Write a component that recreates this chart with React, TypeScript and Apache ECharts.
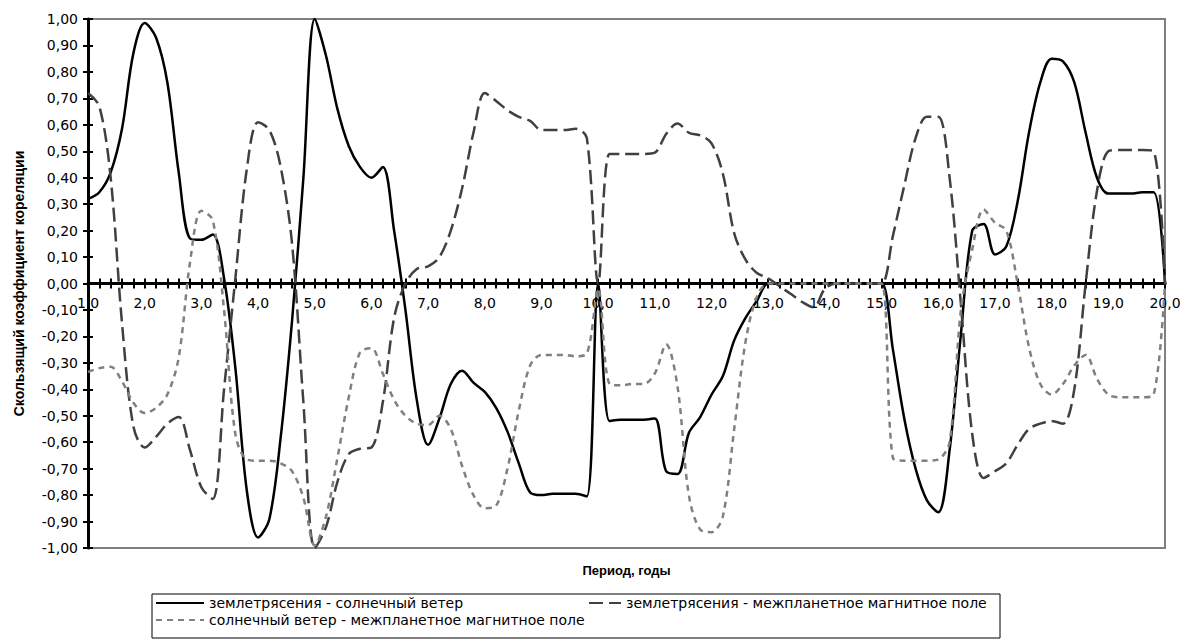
import React, { useEffect, useRef } from "react";
import * as echarts from "echarts";

const periods = [
  "1,0", "1,2", "1,4", "1,6", "1,8", "2,0", "2,2", "2,4", "2,6", "2,8",
  "3,0", "3,2", "3,4", "3,6", "3,8", "4,0", "4,2", "4,4", "4,6", "4,8",
  "5,0", "5,2", "5,4", "5,6", "5,8", "6,0", "6,2", "6,4", "6,6", "6,8",
  "7,0", "7,2", "7,4", "7,6", "7,8", "8,0", "8,2", "8,4", "8,6", "8,8",
  "9,0", "9,2", "9,4", "9,6", "9,8", "10,0", "10,2", "10,4", "10,6", "10,8",
  "11,0", "11,2", "11,4", "11,6", "11,8", "12,0", "12,2", "12,4", "12,6", "12,8",
  "13,0", "13,2", "13,4", "13,6", "13,8", "14,0", "14,2", "14,4", "14,6", "14,8",
  "15,0", "15,2", "15,4", "15,6", "15,8", "16,0", "16,2", "16,4", "16,6", "16,8",
  "17,0", "17,2", "17,4", "17,6", "17,8", "18,0", "18,2", "18,4", "18,6", "18,8",
  "19,0", "19,2", "19,4", "19,6", "19,8", "20,0",
];

const nameQuakeSolar = "землетрясения - солнечный ветер";
const nameQuakeImf = "землетрясения - межпланетное магнитное поле";
const nameSolarImf = "солнечный ветер - межпланетное магнитное поле";

const quakeSolar = [
  0.32, 0.345, 0.42, 0.585, 0.87,
  0.985, 0.93, 0.76, 0.42, 0.17,
  0.165, 0.185, 0.02, -0.32, -0.78,
  -0.96, -0.89, -0.58, -0.14, 0.4,
  1.0, 0.86, 0.66, 0.52, 0.44,
  0.4, 0.44, 0.2, -0.1, -0.44,
  -0.61, -0.51, -0.38, -0.33, -0.375,
  -0.41, -0.47, -0.56, -0.68, -0.79,
  -0.8, -0.795, -0.795, -0.795, -0.805,
  0.0, -0.52, -0.515, -0.515, -0.515,
  -0.51, -0.71, -0.72, -0.565, -0.505,
  -0.42, -0.35, -0.215, -0.13, -0.065,
  0, 0, 0, 0, 0,
  0, 0, 0, 0, 0,
  0, -0.25, -0.51, -0.7, -0.82,
  -0.865, -0.63, -0.19, 0.2, 0.225,
  0.11, 0.14, 0.31, 0.57, 0.76,
  0.85, 0.84, 0.76, 0.57, 0.4,
  0.34, 0.34, 0.34, 0.345, 0.345,
  0,
];

const quakeImf = [
  0.72, 0.67, 0.4, -0.15, -0.54,
  -0.62, -0.58, -0.53, -0.505, -0.63,
  -0.77, -0.815, -0.4, 0.02, 0.43,
  0.61, 0.58, 0.44, 0.15, -0.45,
  -1.0, -0.92, -0.75, -0.645, -0.625,
  -0.62, -0.45, -0.13, 0.0, 0.055,
  0.065, 0.1, 0.2, 0.36, 0.57,
  0.72, 0.69, 0.655, 0.63, 0.615,
  0.58, 0.58, 0.58, 0.585, 0.55,
  0.0, 0.49, 0.49, 0.49, 0.49,
  0.495, 0.565, 0.605, 0.57, 0.56,
  0.53, 0.415, 0.19, 0.09, 0.04,
  0.02, -0.01, -0.04, -0.07, -0.09,
  -0.02, 0, 0, 0, 0,
  0, 0.18, 0.37, 0.55, 0.63,
  0.63, 0.4, -0.08, -0.57, -0.735,
  -0.71, -0.68, -0.61, -0.55, -0.53,
  -0.52, -0.53, -0.4, 0.0, 0.35,
  0.5, 0.505, 0.505, 0.505, 0.5,
  0,
];

const solarImf = [
  -0.335, -0.32, -0.315, -0.37, -0.45,
  -0.49, -0.47, -0.42, -0.28, 0.08,
  0.275, 0.24, -0.1, -0.57, -0.665,
  -0.67, -0.67, -0.68, -0.71, -0.81,
  -0.99, -0.88, -0.66, -0.43, -0.26,
  -0.245, -0.34, -0.44, -0.5, -0.53,
  -0.535, -0.5, -0.55, -0.69, -0.8,
  -0.85, -0.84, -0.7, -0.48, -0.31,
  -0.27, -0.27, -0.27, -0.275, -0.265,
  -0.02, -0.38, -0.385, -0.38, -0.38,
  -0.34, -0.23, -0.39, -0.8, -0.93,
  -0.94, -0.88, -0.55, -0.22, -0.05,
  0, 0, 0, 0, 0,
  0, 0, 0, 0, 0,
  0, -0.66, -0.67, -0.67, -0.67,
  -0.665, -0.6, -0.1, 0.13, 0.28,
  0.23, 0.2, 0.0, -0.24, -0.38,
  -0.42, -0.38, -0.31, -0.27, -0.36,
  -0.42, -0.43, -0.43, -0.43, -0.42,
  0,
];

const FONT = "Liberation Sans";
const WIDE = "DejaVu Sans";

export default function App() {
  const ref = useRef<HTMLDivElement>(null);

  useEffect(() => {
    document.body.style.margin = "0";
    if (!ref.current) return;
    const chart = echarts.init(ref.current, undefined, { renderer: "svg" });

    const yFmt = (v: number) => {
      if (Math.abs(v) < 1e-9) return "0,00";
      return v.toFixed(2).replace(".", ",");
    };

    const lineSeries = (name: string, data: number[], color: string, type: any) => ({
      name,
      type: "line",
      data,
      xAxisIndex: 0,
      yAxisIndex: 0,
      smooth: 0.33,
      symbol: "none",
      showSymbol: false,
      lineStyle: { color, width: 2.5, type },
      itemStyle: { color },
    });

    const legendBase = {
      itemHeight: 14,
      padding: 0,
      itemStyle: { opacity: 0 },
      textStyle: { color: "#000", fontSize: 14, fontFamily: WIDE },
    };

    const zeroAxis = (inside: boolean) => ({
      type: "category",
      data: periods,
      boundaryGap: false,
      position: "bottom",
      axisLine: { show: true, onZero: true, onZeroAxisIndex: 0, lineStyle: { color: "#000", width: 3 } },
      axisTick: { show: true, inside, interval: 0, length: 5, lineStyle: { color: "#000", width: 2 } },
      axisLabel: { show: false },
      splitLine: { show: false },
    });

    chart.setOption({
      animation: false,
      backgroundColor: "#ffffff",
      textStyle: { fontFamily: FONT },
      grid: {
        left: 88,
        right: 15,
        top: 19,
        bottom: 91,
        show: true,
        borderColor: "#808080",
        borderWidth: 2,
        containLabel: false,
        outerBoundsMode: "none",
      },
      xAxis: [
        {
          type: "category",
          data: periods,
          boundaryGap: false,
          position: "bottom",
          axisLine: { show: false, onZero: false },
          axisTick: { show: false },
          axisLabel: { interval: 4, color: "#000", fontFamily: WIDE, fontSize: 14, margin: -252 },
          splitLine: { show: false },
          name: "Период, годы",
          nameLocation: "middle",
          nameGap: 16,
          nameTextStyle: { color: "#000", fontWeight: "bold", fontSize: 13, fontFamily: FONT },
        },
        zeroAxis(false),
        zeroAxis(true),
      ],
      yAxis: [
        {
          type: "value",
          min: -1,
          max: 1,
          interval: 0.1,
          axisLine: { show: true, onZero: false, lineStyle: { color: "#000", width: 3 } },
          axisTick: { show: true, length: 5, lineStyle: { color: "#000", width: 2 } },
          axisLabel: { formatter: yFmt, color: "#000", fontFamily: WIDE, fontSize: 14, margin: 10 },
          splitLine: { show: false },
          name: "Скользящий коэффициент кореляции",
          nameLocation: "middle",
          nameGap: 62,
          nameTextStyle: { color: "#000", fontWeight: "bold", fontSize: 14, fontFamily: FONT },
        },
        {
          type: "value",
          min: -1,
          max: 1,
          interval: 0.1,
          position: "left",
          axisLine: { show: false, onZero: false },
          axisTick: { show: true, inside: true, length: 5, lineStyle: { color: "#000", width: 2 } },
          axisLabel: { show: false },
          splitLine: { show: false },
        },
      ],
      legend: [
        { ...legendBase, data: [nameQuakeSolar], left: 155, top: 596, itemWidth: 48 },
        { ...legendBase, data: [nameQuakeImf], left: 588, top: 596, itemWidth: 32 },
        { ...legendBase, data: [nameSolarImf], left: 155, top: 613, itemWidth: 48 },
      ],
      graphic: [
        {
          type: "rect",
          shape: { x: 152, y: 594, width: 848, height: 44 },
          style: { fill: "none", stroke: "#000", lineWidth: 1 },
          silent: true,
        },
      ],
      series: [
        lineSeries(nameQuakeSolar, quakeSolar, "#000000", "solid"),
        lineSeries(nameQuakeImf, quakeImf, "#404040", [14, 6]),
        lineSeries(nameSolarImf, solarImf, "#808080", [6, 5]),
      ],
    });

    return () => chart.dispose();
  }, []);

  return <div ref={ref} style={{ width: 1180, height: 639 }} />;
}
